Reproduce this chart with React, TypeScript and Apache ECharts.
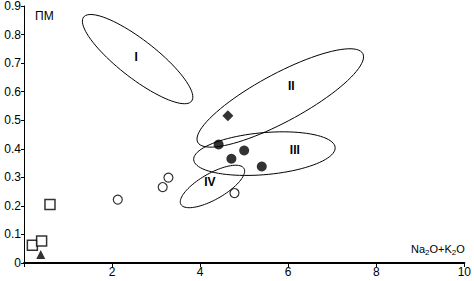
import React, { useEffect, useRef } from "react";
import * as echarts from "echarts";

// ---- data (x: Na2O+K2O, y: ПМ) ----
const squares: number[][] = [[0.19, 0.062], [0.40, 0.077], [0.59, 0.205]];
const triangles: number[][] = [[0.38, 0.03]];
const openCircles: number[][] = [[2.13, 0.222], [3.15, 0.266], [3.28, 0.299], [4.78, 0.245]];
const filledCircles: number[][] = [[4.42, 0.415], [5.0, 0.394], [4.71, 0.365], [5.4, 0.338]];
const diamonds: number[][] = [[4.63, 0.516]];

const fieldNames = ["I", "II", "III", "IV"];
const fieldCenters: number[][] = [[2.58, 0.714], [5.82, 0.578], [5.46, 0.383], [4.28, 0.268]];
const fieldLabelPos: number[][] = [[2.55, 0.72], [6.07, 0.62], [6.15, 0.394], [4.22, 0.282]];

const xTicks = [0, 2, 4, 6, 8, 10];
const yTicks = [0, 0.1, 0.2, 0.3, 0.4, 0.5, 0.6, 0.7, 0.8, 0.9];

// ellipse outline shapes in pixels (semi-axes, rotation)
const fieldShapes = [
  { a: 68.4, b: 19, angle: 37.9 },
  { a: 93.7, b: 24, angle: -28.3 },
  { a: 71, b: 21, angle: -5 },
  { a: 36.3, b: 13, angle: -29.7 },
];

const FONT = "'Liberation Sans', Arial, sans-serif";

export default function App() {
  const ref = useRef<HTMLDivElement>(null);
  useEffect(() => {
    document.body.style.margin = "0";
    const chart = echarts.init(ref.current!, null, { renderer: "svg" });
    const option: any = {
      animation: false,
      backgroundColor: "#fff",
      color: ["#000"],
      textStyle: { fontFamily: FONT, color: "#000" },
      grid: { left: 24, right: 7, top: 5, bottom: 18, containLabel: false },
      xAxis: {
        type: "value",
        min: xTicks[0],
        max: xTicks[xTicks.length - 1],
        interval: 2,
        splitLine: { show: false },
        axisLine: { show: true, onZero: false, lineStyle: { color: "#000", width: 2 } },
        axisTick: { show: true, inside: false, length: 4, lineStyle: { color: "#000", width: 1 } },
        axisLabel: {
          color: "#000",
          fontFamily: FONT,
          fontSize: 12,
          margin: 3,
          formatter: (v: number) => (v === 0 ? "" : String(v)),
        },
      },
      yAxis: {
        type: "value",
        min: yTicks[0],
        max: yTicks[yTicks.length - 1],
        interval: 0.1,
        splitLine: { show: false },
        axisLine: { show: true, onZero: false, lineStyle: { color: "#000", width: 1 } },
        axisTick: { show: true, inside: false, length: 3, lineStyle: { color: "#000", width: 1 } },
        axisLabel: {
          color: "#000",
          fontFamily: FONT,
          fontSize: 12,
          margin: 3,
          formatter: (v: number) => (Math.abs(v) < 1e-9 ? "0" : v.toFixed(1)),
        },
      },
      graphic: [
        {
          type: "text",
          left: 35,
          top: 10,
          style: { text: "ПМ", font: `12px ${FONT}`, fill: "#000" },
        },
        {
          type: "text",
          left: 411,
          top: 243,
          style: {
            text: "Na{s|2}O+K{s|2}O",
            font: `11px ${FONT}`,
            fill: "#000",
            rich: {
              s: { fontSize: 8, fontFamily: FONT, verticalAlign: "bottom", padding: [7, 0, 0, 0] },
            },
          },
        },
      ],
      series: [
        {
          type: "custom",
          data: fieldCenters,
          silent: true,
          z: 1,
          itemStyle: { color: "#000" },
          renderItem: (params: any, api: any) => {
            const i = params.dataIndex;
            const c = api.coord([api.value(0), api.value(1)]);
            const s = fieldShapes[i];
            const th = (s.angle * Math.PI) / 180;
            const pts: number[][] = [];
            for (let k = 0; k <= 90; k++) {
              const t = (k / 90) * Math.PI * 2;
              const u = s.a * Math.cos(t);
              const w = s.b * Math.sin(t);
              pts.push([c[0] + u * Math.cos(th) - w * Math.sin(th), c[1] + u * Math.sin(th) + w * Math.cos(th)]);
            }
            return {
              type: "polygon",
              shape: { points: pts },
              style: { fill: "none", stroke: "#000", lineWidth: 1 },
            };
          },
        },
        {
          type: "custom",
          data: fieldLabelPos,
          silent: true,
          z: 2,
          itemStyle: { color: "#000" },
          renderItem: (params: any, api: any) => {
            const c = api.coord([api.value(0), api.value(1)]);
            return {
              type: "text",
              x: c[0],
              y: c[1],
              style: {
                text: fieldNames[params.dataIndex],
                font: `bold 12px ${FONT}`,
                fill: "#000",
                align: "center",
                verticalAlign: "middle",
              },
            };
          },
        },
        {
          type: "scatter",
          data: squares,
          symbol: "rect",
          symbolSize: 10,
          itemStyle: { color: "#fff", borderColor: "#000", borderWidth: 1.5 },
          z: 3,
        },
        {
          type: "scatter",
          data: triangles,
          symbol: "triangle",
          symbolSize: 9,
          itemStyle: { color: "#000" },
          z: 4,
        },
        {
          type: "scatter",
          data: openCircles,
          symbol: "circle",
          symbolSize: 9,
          itemStyle: { color: "#fff", borderColor: "#000", borderWidth: 1.2 },
          z: 3,
        },
        {
          type: "scatter",
          data: filledCircles,
          symbol: "circle",
          symbolSize: 10,
          itemStyle: { color: "#000" },
          z: 3,
        },
        {
          type: "scatter",
          data: diamonds,
          symbol: "diamond",
          symbolSize: 11,
          itemStyle: { color: "#000" },
          z: 3,
        },
      ],
    };
    chart.setOption(option);
    return () => chart.dispose();
  }, []);
  return <div ref={ref} style={{ position: "absolute", left: 0, top: 0, width: 474, height: 281 }} />;
}
